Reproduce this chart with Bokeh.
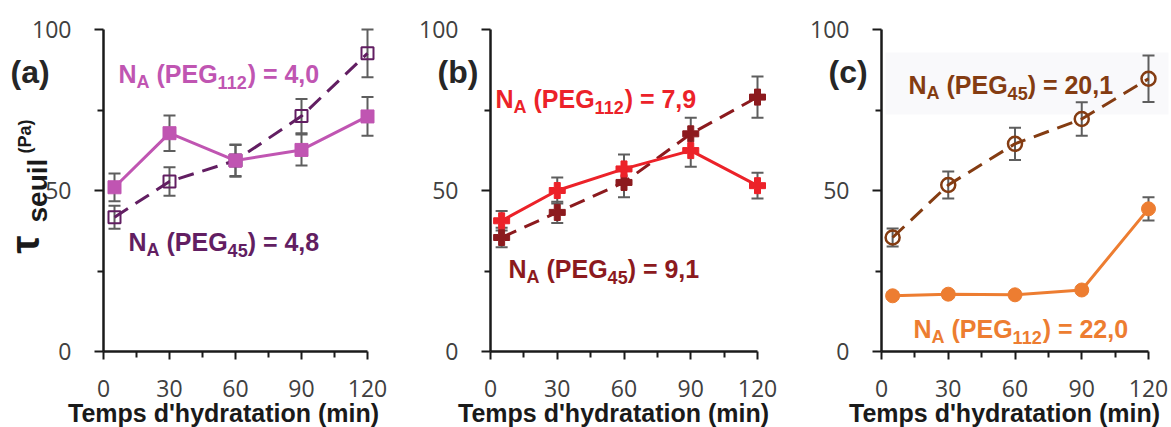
import math
from bokeh.plotting import figure
from bokeh.models import Range1d, Label, Whisker, TeeHead, ColumnDataSource, FixedTicker, BoxAnnotation
from bokeh.layouts import row
from bokeh.embed import file_html
from bokeh.resources import INLINE

# ---------------- data ----------------
times = [5, 30, 60, 90, 120]
x_ticks = [0, 30, 60, 90, 120]
x_minor = [15, 45, 75, 105]
y_ticks = [0, 50, 100]
y_minor = [25, 75]

a_peg112 = [51.0, 67.8, 59.3, 62.6, 73.0]
a_peg112_err = [4.3, 5.5, 5.0, 4.8, 6.0]
a_peg45 = [41.7, 52.8, 59.3, 73.1, 92.6]
a_peg45_err = [3.6, 4.4, 4.8, 5.3, 7.4]

b_peg112 = [40.6, 50.0, 56.7, 62.4, 51.5]
b_peg112_err = [3.0, 4.0, 4.5, 5.0, 4.0]
b_peg45 = [35.4, 43.2, 52.5, 67.6, 79.0]
b_peg45_err = [3.0, 3.3, 4.6, 5.0, 6.4]

c_peg45 = [35.4, 51.7, 64.5, 72.2, 84.7]
c_peg45_err = [2.8, 4.2, 5.0, 5.2, 7.2]
c_peg112 = [17.3, 17.8, 17.6, 19.1, 44.3]
c_peg112_err = [1.0, 1.0, 1.0, 1.0, 3.6]

labels_na = {
    "a": [("112", "4,0"), ("45", "4,8")],
    "b": [("112", "7,9"), ("45", "9,1")],
    "c": [("45", "20,1"), ("112", "22,0")],
}
x_title = "Temps d'hydratation (min)"

# ---------------- styles ----------------
PINK = "#c055b2"
PURPLE = "#621e62"
RED = "#ec2229"
DRED = "#8c1a1e"
BROWN = "#843c12"
ORANGE = "#ed7d31"
ERR = "#5e5e5e"
AX = "#1a1a1a"
TICKC = "#404040"
FONT = "Liberation Sans"
DASH = "16 9"
MID = 0.35   # distance (in em) from baseline to the middle anchor

# Helvetica-Bold advance widths (1/1000 em) for laying out composite labels
HW = {'N': 722, 'A': 722, ' ': 278, '(': 333, ')': 333, 'P': 667, 'E': 667,
      'G': 778, '=': 584, ',': 278}
for d in "0123456789":
    HW[d] = 556


def tw(s, size):
    return sum(HW[c] for c in s) / 1000.0 * size


H = 427
Y0_PX = 351.0      # pixel row of y = 0
KY = 3.22          # pixels per y unit


class Panel:
    def __init__(self, canvas_left, canvas_w, frame_left, kx):
        self.cl = canvas_left
        self.fl = frame_left
        self.kx = kx
        self.p = figure(width=canvas_w, height=H,
                        min_border_left=0, min_border_right=0,
                        min_border_top=0, min_border_bottom=0,
                        x_range=Range1d((canvas_left - frame_left) / kx,
                                        (canvas_left + canvas_w - frame_left) / kx),
                        y_range=Range1d((Y0_PX - H) / KY, Y0_PX / KY),
                        output_backend="svg", toolbar_location=None)
        p = self.p
        p.grid.visible = False
        p.outline_line_color = None
        p.background_fill_color = "white"
        p.border_fill_color = "white"
        p.xaxis.fixed_location = 0
        p.yaxis.fixed_location = 0
        p.xaxis.ticker = FixedTicker(ticks=x_ticks, minor_ticks=x_minor)
        p.yaxis.ticker = FixedTicker(ticks=y_ticks, minor_ticks=y_minor)
        p.xaxis.bounds = (0, 120)
        p.yaxis.bounds = (0, 100)
        for ax in (p.xaxis, p.yaxis):
            ax.axis_line_width = 2.5
            ax.axis_line_color = AX
            ax.major_tick_line_color = AX
            ax.minor_tick_line_color = AX
            ax.major_tick_line_width = 2
            ax.minor_tick_line_width = 2
            ax.major_tick_in = 0
            ax.minor_tick_in = 0
            ax.major_label_text_font = "Open Sans"
            ax.major_label_text_font_size = "23px"
            ax.major_label_text_color = TICKC
        p.xaxis.major_tick_out = 8
        p.xaxis.minor_tick_out = 6
        p.yaxis.major_tick_out = 9
        p.yaxis.minor_tick_out = 6
        p.xaxis.major_label_standoff = 20
        p.yaxis.major_label_standoff = 23

    def dx(self, px):
        return (px - self.fl) / self.kx

    def dy(self, py):
        return (Y0_PX - py) / KY

    def band(self, left, right, top, bottom, color):
        self.p.add_layout(BoxAnnotation(left=self.dx(left), right=self.dx(right),
                                        top=self.dy(top), bottom=self.dy(bottom),
                                        fill_color=color, fill_alpha=1.0,
                                        line_color=None, level="underlay"))

    def series(self, ys, errs, color, marker, size, dashed, filled, lw_marker=2):
        p = self.p
        src = ColumnDataSource(dict(x=times, y=ys,
                                    upper=[v + e for v, e in zip(ys, errs)],
                                    lower=[v - e for v, e in zip(ys, errs)]))
        w = Whisker(source=src, base="x", upper="upper", lower="lower",
                    line_color=ERR, line_width=2,
                    upper_head=TeeHead(size=12, line_color=ERR, line_width=2),
                    lower_head=TeeHead(size=12, line_color=ERR, line_width=2))
        p.add_layout(w)
        p.line("x", "y", source=src, line_color=color, line_width=3,
               line_dash=DASH if dashed else "solid")
        if filled:
            p.scatter("x", "y", source=src, marker=marker, size=size,
                      fill_color=color, line_color=color)
        else:
            p.scatter("x", "y", source=src, marker=marker, size=size,
                      fill_alpha=0, line_color=color, line_width=lw_marker)

    def text(self, px, py, txt, size, color, align="left", vertical=False):
        # (px, py): start of the text on its baseline, in picture pixels
        if vertical:
            px = px - MID * size
        else:
            py = py - MID * size
        self.p.add_layout(Label(x=self.dx(px), y=self.dy(py), text=txt,
                                text_font=FONT, text_font_size=f"{size}px",
                                text_font_style="bold",
                                text_color=color, text_baseline="middle",
                                text_align=align,
                                angle=math.pi / 2 if vertical else 0.0))

    def na(self, left_px, base_px, peg, val, color):
        F, FS, SUB = 25, 18, 6
        pieces = [("N", F, 0), ("A", FS, SUB), (" (PEG", F, 0), (peg, FS, SUB),
                  (") = " + val, F, 0)]
        x = left_px
        for txt, size, dyp in pieces:
            lead = len(txt) - len(txt.lstrip(" "))
            x += tw(" " * lead, size)
            body = txt.lstrip(" ")
            self.text(x, base_px + dyp, body, size, color)
            x += tw(body, size)


# ---------------- panel (a) ----------------
A = Panel(0, 390, 103, 2.2)
A.series(a_peg45, a_peg45_err, PURPLE, "square", 12, True, False)
A.series(a_peg112, a_peg112_err, PINK, "square", 13, False, True)
A.na(118, 82, labels_na["a"][0][0], labels_na["a"][0][1], PINK)
A.na(128, 250, labels_na["a"][1][0], labels_na["a"][1][1], PURPLE)
A.text(10, 83, "(a)", 32, "#262626")
A.text(223, 421, x_title, 25, AX, align="center")
A.text(38, 253, "τ", 40, AX, vertical=True)
A.text(47, 222, "seuil", 28, AX, vertical=True)
A.text(31, 153, "(Pa)", 18, AX, vertical=True)

# ---------------- panel (b) ----------------
B = Panel(390, 390, 490, 2.225)
B.series(b_peg45, b_peg45_err, DRED, "plus", 16, True, True)
B.series(b_peg112, b_peg112_err, RED, "plus", 16, False, True)
B.na(495, 107, labels_na["b"][0][0], labels_na["b"][0][1], RED)
B.na(508, 277, labels_na["b"][1][0], labels_na["b"][1][1], DRED)
B.text(437, 83, "(b)", 32, "#262626")
B.text(613, 421, x_title, 25, AX, align="center")

# ---------------- panel (c) ----------------
C = Panel(780, 391, 881, 2.225)
C.band(885, 1168, 52, 114, "#f9f9fb")
C.series(c_peg45, c_peg45_err, BROWN, "circle", 14, True, False, lw_marker=2.5)
C.series(c_peg112, c_peg112_err, ORANGE, "circle", 14, False, True)
C.na(908, 93, labels_na["c"][0][0], labels_na["c"][0][1], BROWN)
C.na(913, 337, labels_na["c"][1][0], labels_na["c"][1][1], ORANGE)
C.text(828, 83, "(c)", 32, "#262626")
C.text(1004, 421, x_title, 25, AX, align="center")

layout = row(A.p, B.p, C.p)
open("out.html", "w").write(file_html(layout, INLINE))
